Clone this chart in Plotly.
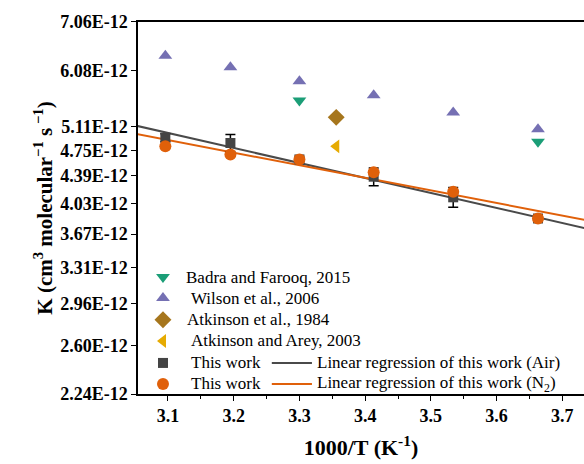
import plotly.graph_objects as go

# ---- data ----
x_this = [3.096, 3.195, 3.300, 3.413, 3.534, 3.663]
k_air = [4.94e-12, 4.86e-12, 4.62e-12, 4.38e-12, 4.11e-12, 3.85e-12]
err_air = [0.06e-12, 0.13e-12, 0.03e-12, 0.12e-12, 0.125e-12, 0.03e-12]
k_n2 = [4.81e-12, 4.69e-12, 4.62e-12, 4.44e-12, 4.18e-12, 3.85e-12]

x_wilson = [3.096, 3.195, 3.300, 3.413, 3.534, 3.663]
k_wilson = [6.36e-12, 6.14e-12, 5.88e-12, 5.63e-12, 5.34e-12, 5.07e-12]

x_badra = [3.300, 3.663]
k_badra = [5.54e-12, 4.88e-12]

x_atk84 = [3.356]
k_atk84 = [5.26e-12]

x_arey = [3.356]
k_arey = [4.81e-12]

reg_x = [3.05, 3.75]
reg_air = [5.13e-12, 3.71e-12]
reg_n2 = [5.00e-12, 3.81e-12]

y_tickvals = [2.24e-12, 2.60e-12, 2.96e-12, 3.31e-12, 3.67e-12, 4.03e-12,
              4.39e-12, 4.75e-12, 5.11e-12, 6.08e-12, 7.06e-12]
y_ticktext = ["2.24E-12", "2.60E-12", "2.96E-12", "3.31E-12", "3.67E-12", "4.03E-12",
              "4.39E-12", "4.75E-12", "5.11E-12", "6.08E-12", "7.06E-12"]
x_tickvals = [3.1, 3.2, 3.3, 3.4, 3.5, 3.6, 3.7]
x_ticktext = ["3.1", "3.2", "3.3", "3.4", "3.5", "3.6", "3.7"]

legend_marker_labels = ["Badra and Farooq, 2015", "Wilson et al., 2006",
                        "Atkinson et al., 1984", "Atkinson and Arey, 2003",
                        "This work", "This work"]
legend_line_labels = ["Linear regression of this work (Air)",
                      "Linear regression of this work (N<sub>2</sub>)"]

FONT = "Times New Roman"

C_BADRA = "#1b9e77"
C_WILSON = "#7570b3"
C_ATK84 = "#a6761d"
C_AREY = "#e6ab02"
C_AIR = "#444444"
C_N2 = "#e0600a"
C_AIR_LINE = "#4a4a4a"

fig = go.Figure()

fig.add_trace(go.Scatter(x=reg_x, y=reg_air, mode="lines",
                         line=dict(color=C_AIR_LINE, width=2), name=legend_line_labels[0]))
fig.add_trace(go.Scatter(x=reg_x, y=reg_n2, mode="lines",
                         line=dict(color=C_N2, width=2), name=legend_line_labels[1]))

marker_specs = [
    ("triangle-down", 12, C_BADRA),
    ("triangle-up", 12, C_WILSON),
    ("diamond", 13, C_ATK84),
    ("triangle-left", 12, C_AREY),
    ("square", 10, C_AIR),
    ("circle", 12, C_N2),
]

fig.add_trace(go.Scatter(x=x_badra, y=k_badra, mode="markers",
                         marker=dict(symbol=marker_specs[0][0], size=marker_specs[0][1], color=C_BADRA),
                         name=legend_marker_labels[0]))
fig.add_trace(go.Scatter(x=x_wilson, y=k_wilson, mode="markers",
                         marker=dict(symbol=marker_specs[1][0], size=marker_specs[1][1], color=C_WILSON),
                         name=legend_marker_labels[1]))
fig.add_trace(go.Scatter(x=x_atk84, y=k_atk84, mode="markers",
                         marker=dict(symbol=marker_specs[2][0], size=marker_specs[2][1], color=C_ATK84),
                         name=legend_marker_labels[2]))
fig.add_trace(go.Scatter(x=x_arey, y=k_arey, mode="markers",
                         marker=dict(symbol=marker_specs[3][0], size=marker_specs[3][1], color=C_AREY),
                         name=legend_marker_labels[3]))
fig.add_trace(go.Scatter(x=x_this, y=k_air, mode="markers",
                         marker=dict(symbol=marker_specs[4][0], size=marker_specs[4][1], color=C_AIR),
                         error_y=dict(type="data", array=err_air, color="black",
                                      thickness=1.5, width=5),
                         name=legend_marker_labels[4]))
fig.add_trace(go.Scatter(x=x_this, y=k_n2, mode="markers",
                         marker=dict(symbol=marker_specs[5][0], size=marker_specs[5][1], color=C_N2),
                         name=legend_marker_labels[5]))

# ---- hand-built legend (rows laid out like the reference) ----
row_y = [0.3145, 0.258, 0.1995, 0.1425, 0.0835, 0.027]
marker_x = 0.056
text_x = [0.103, 0.114, 0.105, 0.114, 0.114, 0.114]
annotations = []
for i, (sym, size, col) in enumerate(marker_specs):
    fig.add_trace(go.Scatter(x=[marker_x], y=[row_y[i]], mode="markers",
                             marker=dict(symbol=sym, size=size, color=col),
                             xaxis="x2", yaxis="y2", showlegend=False, hoverinfo="skip"))
    annotations.append(dict(x=text_x[i], y=row_y[i], xref="paper", yref="paper",
                            text=legend_marker_labels[i], showarrow=False,
                            xanchor="left", yanchor="middle",
                            font=dict(size=17, family=FONT, color="black")))

shapes = []
for j, col in enumerate([C_AIR_LINE, C_N2]):
    yy = row_y[4 + j]
    shapes.append(dict(type="line", xref="paper", yref="paper",
                       x0=0.300, x1=0.390, y0=yy, y1=yy,
                       line=dict(color=col, width=2)))
    annotations.append(dict(x=0.397, y=yy, xref="paper", yref="paper",
                            text=legend_line_labels[j], showarrow=False,
                            xanchor="left", yanchor="middle",
                            font=dict(size=17, family=FONT, color="black")))

fig.update_layout(
    width=584, height=464,
    margin=dict(l=138, r=0, t=22, b=70),
    plot_bgcolor="white", paper_bgcolor="white",
    font=dict(family=FONT, color="black"),
    showlegend=False,
    annotations=annotations,
    shapes=shapes,
    xaxis=dict(range=[3.0544, 3.733], tickvals=x_tickvals, ticktext=x_ticktext,
               showgrid=False, zeroline=False, showline=True, linecolor="black",
               linewidth=1.5, mirror=True, ticks="outside", ticklen=5,
               tickwidth=1.2, tickcolor="black",
               minor=dict(ticks="outside", ticklen=3, dtick=0.05, tick0=3.05,
                          tickcolor="black", showgrid=False),
               tickfont=dict(size=18, family=FONT, weight="bold"),
               title=dict(text="<b>1000/T (K<sup>-1</sup>)</b>",
                          font=dict(size=22, family=FONT), standoff=14)),
    yaxis=dict(type="log", range=[-11.64975, -11.15121],
               tickvals=y_tickvals, ticktext=y_ticktext,
               showgrid=False, zeroline=False, showline=True, linecolor="black",
               linewidth=1.5, ticks="outside", ticklen=5, tickwidth=1.2,
               tickcolor="black",
               tickfont=dict(size=18, family=FONT, weight="bold"),
               title=dict(text="<b>K (cm<sup>3</sup> molecular<sup>\u22121</sup> s<sup> \u22121</sup>)</b>",
                          font=dict(size=21, family=FONT), standoff=2)),
    xaxis2=dict(overlaying="x", range=[0, 1], visible=False, fixedrange=True),
    yaxis2=dict(overlaying="y", range=[0, 1], visible=False, fixedrange=True),
)

fig.write_html("out.html")
